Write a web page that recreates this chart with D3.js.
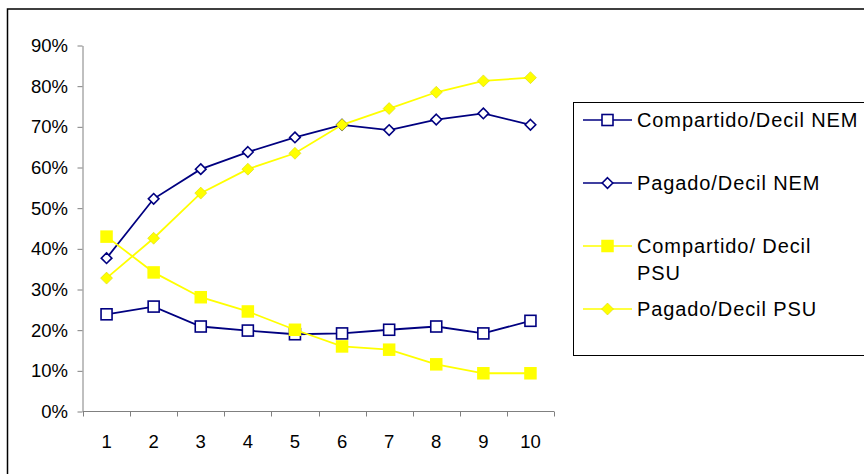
<!DOCTYPE html>
<html lang="es">
<head>
    <meta charset="utf-8">
    <title>Compartido / Pagado por decil</title>
    <script src="https://d3js.org/d3.v7.min.js"></script>
    <style>
        body { margin: 0; background: #fff; font-family: "Liberation Sans", Arial, sans-serif; }
        .axis text { font-size: 18.5px; fill: #000; font-family: "Liberation Sans", Arial, sans-serif; }
        .axis path, .axis line { stroke: #808080; }
        .legend text { font-size: 20px; letter-spacing: 0.9px; font-family: "Liberation Sans", Arial, sans-serif; }
    </style>
</head>
<body>
<div id="chart"></div>
<script>

// deciles on the x axis
const deciles = ["1", "2", "3", "4", "5", "6", "7", "8", "9", "10"];
const yTicks = [0, 0.1, 0.2, 0.3, 0.4, 0.5, 0.6, 0.7, 0.8, 0.9];

// series
const compartidoNEM = [0.239, 0.258, 0.209, 0.199, 0.190, 0.192, 0.201, 0.209, 0.192, 0.223];
const pagadoNEM     = [0.377, 0.523, 0.596, 0.638, 0.674, 0.705, 0.692, 0.718, 0.733, 0.705];
const compartidoPSU = [0.430, 0.342, 0.281, 0.246, 0.201, 0.160, 0.152, 0.116, 0.094, 0.094];
const pagadoPSU     = [0.328, 0.426, 0.537, 0.596, 0.635, 0.705, 0.745, 0.785, 0.813, 0.821];

const seriesNames = ["Compartido/Decil NEM", "Pagado/Decil NEM", "Compartido/ Decil\nPSU", "Pagado/Decil PSU"];

const navy = "#000080", yellow = "#ffff00";

const series = [
    {name: seriesNames[0], values: compartidoNEM, color: navy,   shape: "square",  filled: false},
    {name: seriesNames[1], values: pagadoNEM,     color: navy,   shape: "diamond", filled: false},
    {name: seriesNames[2], values: compartidoPSU, color: yellow, shape: "square",  filled: true},
    {name: seriesNames[3], values: pagadoPSU,     color: yellow, shape: "diamond", filled: true}
];

const W = 864, H = 474;
const svg = d3.select("#chart").append("svg")
    .attr("width", W).attr("height", H);

// outer chart frame (runs off right and bottom edge)
svg.append("rect")
    .attr("x", 7.5).attr("y", 9).attr("width", W + 10).attr("height", H + 10)
    .attr("fill", "none").attr("stroke", "#000").attr("stroke-width", 1.5);

const x = d3.scaleBand().domain(deciles).range([83, 554]);
const y = d3.scaleLinear().domain([0, 0.9]).range([411.5, 45.5]);

// y axis
svg.append("g").attr("class", "axis")
    .attr("transform", "translate(82.5,0)")
    .call(d3.axisLeft(y).tickValues(yTicks).tickFormat(d3.format(".0%")).tickSize(5).tickSizeOuter(0).tickPadding(9.5));

// x axis, ticks between categories
const xAxis = svg.append("g").attr("class", "axis")
    .attr("transform", "translate(0,411.5)");
xAxis.append("path")
    .attr("d", `M${x.range()[0]},0H${x.range()[1]}`)
    .attr("stroke", "#808080");
xAxis.selectAll("line.tk")
    .data(deciles.concat(["end"]))
    .join("line")
    .attr("class", "tk")
    .attr("x1", (d, i) => Math.round(x.range()[0] + i * x.step()) + 0.5)
    .attr("x2", (d, i) => Math.round(x.range()[0] + i * x.step()) + 0.5)
    .attr("y1", 0).attr("y2", 5)
    .attr("stroke", "#808080");
xAxis.selectAll("text")
    .data(deciles)
    .join("text")
    .attr("x", d => x(d) + x.bandwidth() / 2)
    .attr("y", 36)
    .attr("text-anchor", "middle")
    .text(d => d);

const cx = i => x(deciles[i]) + x.bandwidth() / 2;

function drawMarker(g, shape, color, filled, px, py) {
    if (shape === "square") {
        const s = filled ? 12.5 : 11;
        g.append("rect")
            .attr("x", px - s / 2).attr("y", py - s / 2)
            .attr("width", s).attr("height", s)
            .attr("fill", filled ? color : "#fff")
            .attr("stroke", color).attr("stroke-width", filled ? 0 : 1.6);
    } else {
        const r = filled ? 6 : 5.3;
        g.append("path")
            .attr("d", `M${px},${py - r}L${px + r},${py}L${px},${py + r}L${px - r},${py}Z`)
            .attr("fill", filled ? color : "#fff")
            .attr("stroke", filled ? "#d0d000" : color)
            .attr("stroke-width", filled ? 0.5 : 1.6);
    }
}

const line = d3.line().x((d, i) => cx(i)).y(d => y(d));

series.forEach(s => {
    const g = svg.append("g");
    g.append("path")
        .datum(s.values)
        .attr("d", line)
        .attr("fill", "none")
        .attr("stroke", s.color)
        .attr("stroke-width", 1.8);
    s.values.forEach((v, i) => drawMarker(g, s.shape, s.color, s.filled, cx(i), y(v)));
});

// legend
const legend = svg.append("g").attr("class", "legend");
legend.append("rect")
    .attr("x", 573.5).attr("y", 102.5).attr("width", 300).attr("height", 253)
    .attr("fill", "none").attr("stroke", "#000").attr("stroke-width", 1);

const legendY = [120, 183, 246, 309];
series.forEach((s, i) => {
    const ly = legendY[i];
    legend.append("line")
        .attr("x1", 583).attr("x2", 632).attr("y1", ly).attr("y2", ly)
        .attr("stroke", s.color).attr("stroke-width", 1.5);
    drawMarker(legend, s.shape, s.color, s.filled, 607.5, ly);
    const t = legend.append("text")
        .attr("x", 637).attr("y", ly + 7)
        .attr("fill", "#000");
    s.name.split("\n").forEach((part, k) => {
        t.append("tspan").attr("x", 637).attr("dy", k === 0 ? 0 : 27).text(part);
    });
});

</script>
</body>
</html>
